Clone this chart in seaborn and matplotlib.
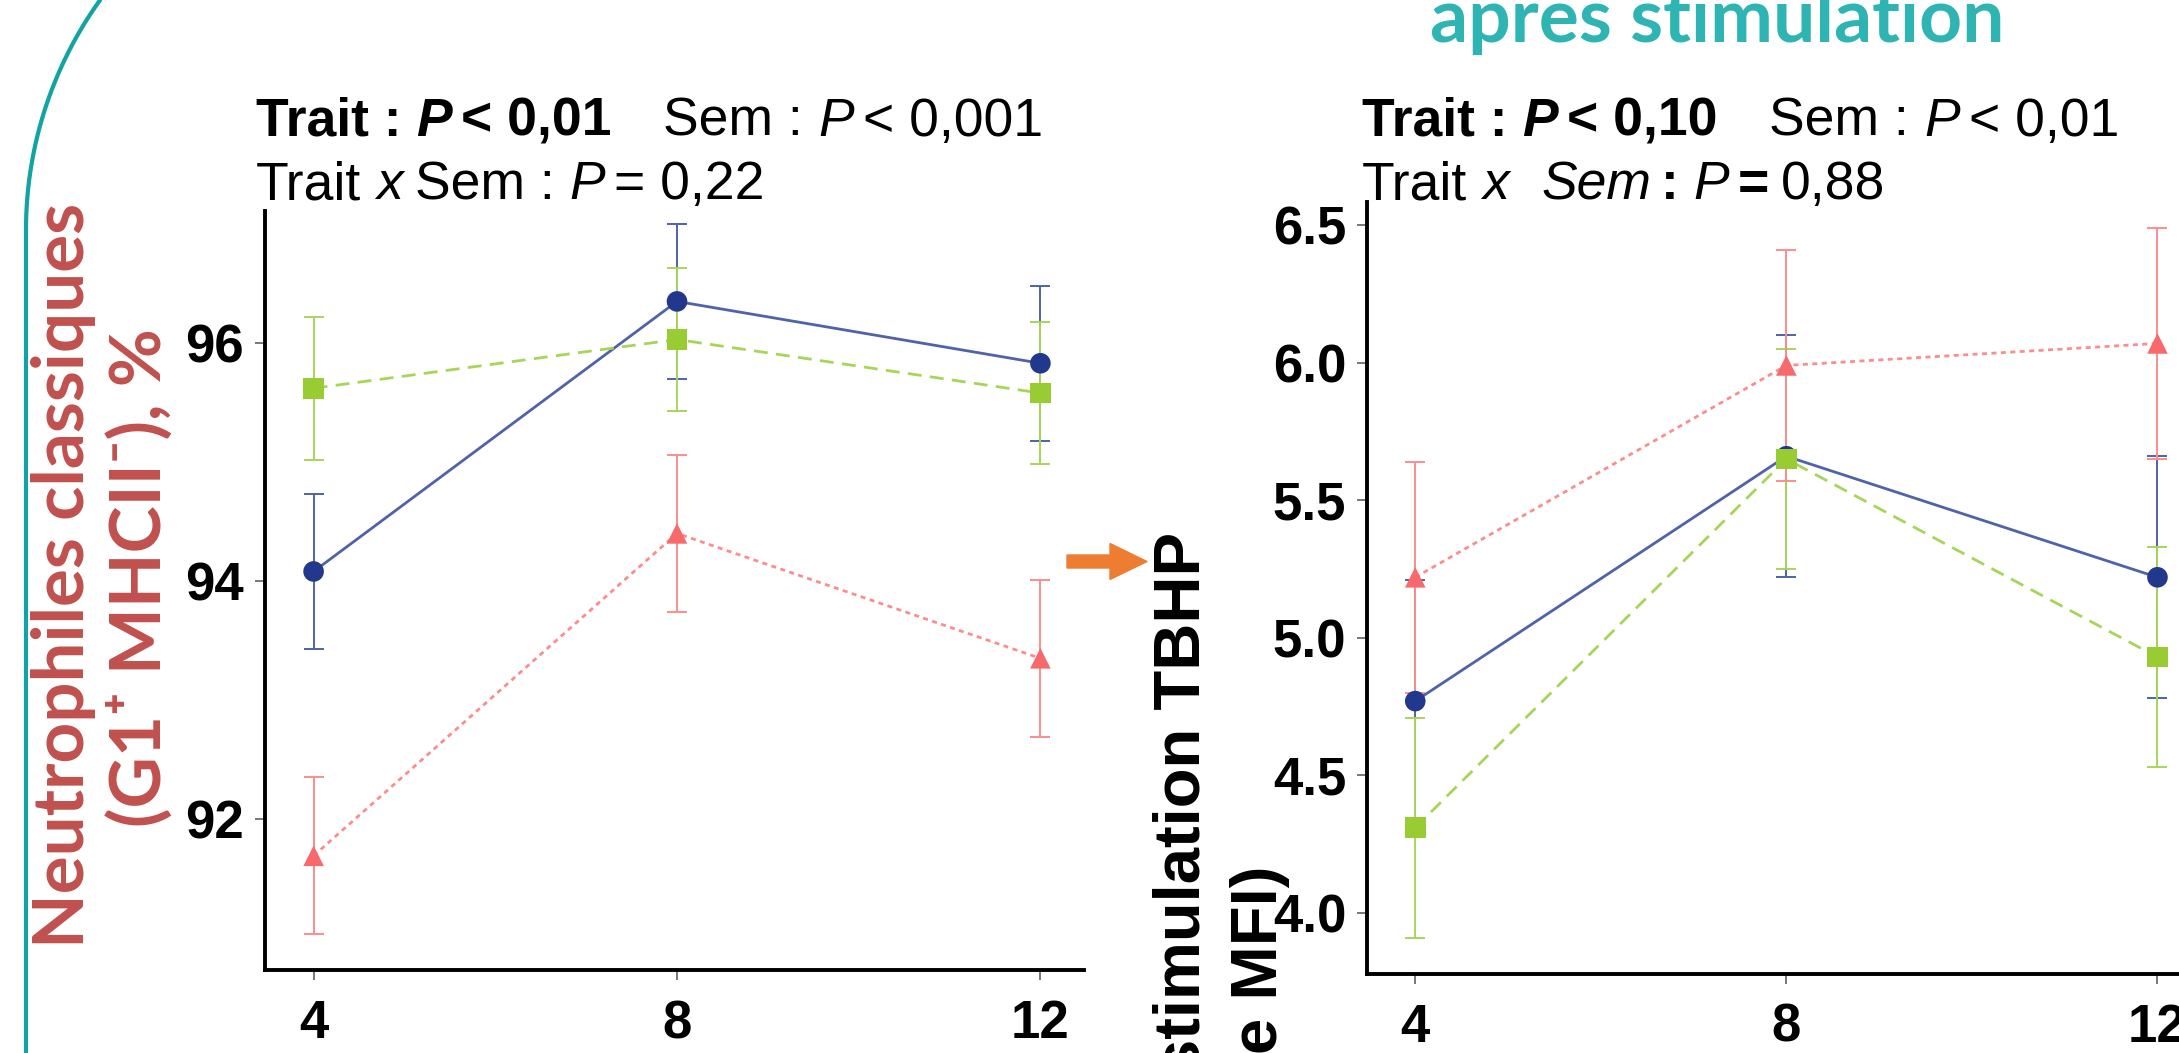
import numpy as np
import pandas as pd
import seaborn as sns
import matplotlib.pyplot as plt
from matplotlib.lines import Line2D
from matplotlib.patches import FancyArrow

# semaines de mesure
weeks = [4, 8, 12]
groups = ['T1', 'T2', 'T3']

# neutrophiles classiques (G1+ MHCII-), % : moyenne et erreur standard
neut_t1 = [94.08, 96.35, 95.83]
neut_t1_se = [0.65, 0.65, 0.65]
neut_t2 = [95.62, 96.03, 95.58]
neut_t2_se = [0.60, 0.60, 0.60]
neut_t3 = [91.69, 94.40, 93.35]
neut_t3_se = [0.66, 0.66, 0.66]

# stimulation TBHP (MFI) : moyenne et erreur standard
tbhp_t1 = [4.77, 5.66, 5.22]
tbhp_t1_se = [0.44, 0.44, 0.44]
tbhp_t2 = [4.31, 5.65, 4.93]
tbhp_t2_se = [0.40, 0.40, 0.40]
tbhp_t3 = [5.22, 5.99, 6.07]
tbhp_t3_se = [0.42, 0.42, 0.42]

neut_yticks = [92, 94, 96]
tbhp_yticks = [4.0, 4.5, 5.0, 5.5, 6.0, 6.5]

W, H = 2179, 1053

dark = {'T1': '#22388c', 'T2': '#99cc33', 'T3': '#f8696b'}
light = {'T1': '#5062a8', 'T2': '#a8d45a', 'T3': '#f98e8e'}
marks = {'T1': 'o', 'T2': 's', 'T3': '^'}
dashes = {'T1': '', 'T2': (5, 3), 'T3': (1.8, 1.6)}


def long_df(means, ses):
    rows = []
    for g, m, e in zip(groups, means, ses):
        for w, v, s in zip(weeks, m, e):
            rows.append((w, g, v, s))
    return pd.DataFrame(rows, columns=['week', 'trait', 'val', 'err'])


def fig_xy(x, y):
    # pixels (origine en haut a gauche) -> fraction de figure
    return x / W, 1 - y / H


def draw_panel(ax, df, xlim, ylim, yticks):
    for g in groups:
        d = df[df['trait'] == g]
        ax.errorbar(d['week'], d['val'], yerr=d['err'], fmt='none', ecolor=light[g],
                    elinewidth=1.4, capsize=7, capthick=1.4, zorder=2)
    sns.lineplot(data=df, x='week', y='val', hue='trait', style='trait',
                 palette=light, dashes=dashes, lw=2.0, legend=False,
                 errorbar=None, ax=ax, zorder=3)
    sns.scatterplot(data=df, x='week', y='val', hue='trait', style='trait',
                    palette=dark, markers=marks, s=220, edgecolor='none',
                    legend=False, ax=ax, zorder=4)
    ax.set_xlim(*xlim)
    ax.set_ylim(*ylim)
    ax.set_xticks(weeks)
    ax.set_yticks(yticks)
    ax.set_xlabel('')
    ax.set_ylabel('')
    sns.despine(ax=ax)
    for sp in ['left', 'bottom']:
        ax.spines[sp].set_linewidth(2.8)
        ax.spines[sp].set_color('black')
    ax.tick_params(axis='both', length=7, width=1.4, color='#777777',
                   labelsize=38, labelcolor='black')
    ax.tick_params(axis='x', pad=14)
    ax.tick_params(axis='y', pad=8)
    for lab in ax.get_xticklabels() + ax.get_yticklabels():
        lab.set_fontweight('bold')
        lab.set_family('Liberation Sans')


def rich(fig, x, y, runs, size=38.5):
    # suite de morceaux de texte avec graisse / style differents
    r = fig.canvas.get_renderer()
    sp = 0.278 * size * fig.dpi / 72
    for gap, s, w, st in runs:
        x += gap * sp
        t = fig.text(*fig_xy(x, y), s, fontsize=size, fontweight=w,
                     fontstyle=st, family='Liberation Sans', va='baseline',
                     ha='left', color='black')
        x = t.get_window_extent(r).x1


sns.set_theme(style='ticks')
plt.rcParams['font.family'] = ['Liberation Sans', 'DejaVu Sans']

fig = plt.figure(figsize=(W / 100, H / 100), dpi=100, facecolor='white')

ax1 = fig.add_axes([265 / W, 1 - 970 / H, 819 / W, 759 / H])
draw_panel(ax1, long_df([neut_t1, neut_t2, neut_t3], [neut_t1_se, neut_t2_se, neut_t3_se]),
           (3.465, 12.48), (90.73, 97.11), neut_yticks)

ax2 = fig.add_axes([1367 / W, 1 - 973.5 / H, 835 / W, 771.5 / H])
draw_panel(ax2, long_df([tbhp_t1, tbhp_t2, tbhp_t3], [tbhp_t1_se, tbhp_t2_se, tbhp_t3_se]),
           (3.48, 12.48), (3.78, 6.584), tbhp_yticks)

# statistiques au-dessus des graphiques
B, N, I = 'bold', 'normal', 'italic'
rich(fig, 256, 136, [(0, 'Trait :', B, N), (1, 'P', B, I), (0.6, '< 0,01', B, N),
                     (3.5, 'Sem :', N, N), (1, 'P', N, I), (0.6, '< 0,001', N, N)])
rich(fig, 256, 199, [(0, 'Trait', N, N), (1, 'x', N, I), (0.8, 'Sem :', N, N),
                     (1, 'P', N, I), (0.6, '= 0,22', N, N)])
rich(fig, 1362, 136, [(0, 'Trait :', B, N), (1, 'P', B, I), (0.6, '< 0,10', B, N),
                      (3.5, 'Sem :', N, N), (1, 'P', N, I), (0.6, '< 0,01', N, N)])
rich(fig, 1362, 199, [(0, 'Trait', N, N), (1, 'x', N, I), (2.2, 'Sem', N, I),
                      (0.6, ':', B, N), (1, 'P', N, I), (0.6, '=', B, N), (0.8, '0,88', N, N)])

# titres de la diapositive
red = '#c0504d'
fig.text(*fig_xy(84, 575), 'Neutrophiles classiques', rotation=90, rotation_mode='anchor',
         ha='center', va='baseline', fontsize=51, fontweight='bold', color=red,
         family=['Lato', 'DejaVu Sans'])
fig.text(*fig_xy(161, 578), '(G1\u207a MHCII\u207b), %', rotation=90, rotation_mode='anchor',
         ha='center', va='baseline', fontsize=51, fontweight='bold', color=red,
         family=['Lato', 'DejaVu Sans'])
fig.text(*fig_xy(1430, 42), 'aprés stimulation', ha='left', va='baseline',
         fontsize=54, fontweight='bold', color='#2fb4b4', family=['Lato', 'DejaVu Sans'])
fig.text(*fig_xy(1200, 532), 'stimulation TBHP', rotation=90, rotation_mode='anchor',
         ha='right', va='baseline', fontsize=47, fontweight='bold', color='black',
         family='Liberation Sans')
fig.text(*fig_xy(1277, 866), 'e MFI)', rotation=90, rotation_mode='anchor',
         ha='right', va='baseline', fontsize=47, fontweight='bold', color='black',
         family='Liberation Sans')

# fleche orange
fig.add_artist(FancyArrow(1067 / W, 1 - 561.5 / H, 80 / W, 0, width=13 / H,
                          head_width=36 / H, head_length=37 / W,
                          length_includes_head=True, color='#ed7d31',
                          transform=fig.transFigure))

# cadre arrondi turquoise a gauche
R, cx, cy = 394, 420, 230
th = np.linspace(np.pi - np.arcsin(cy / R), np.pi, 60)
xs = np.concatenate([cx + R * np.cos(th), [26]])
ys = np.concatenate([cy - R * np.sin(th), [H]])
fig.add_artist(Line2D(xs / W, 1 - ys / H, color='#12a3a3', lw=3,
                      transform=fig.transFigure))

fig.savefig('out.png', dpi=100)
